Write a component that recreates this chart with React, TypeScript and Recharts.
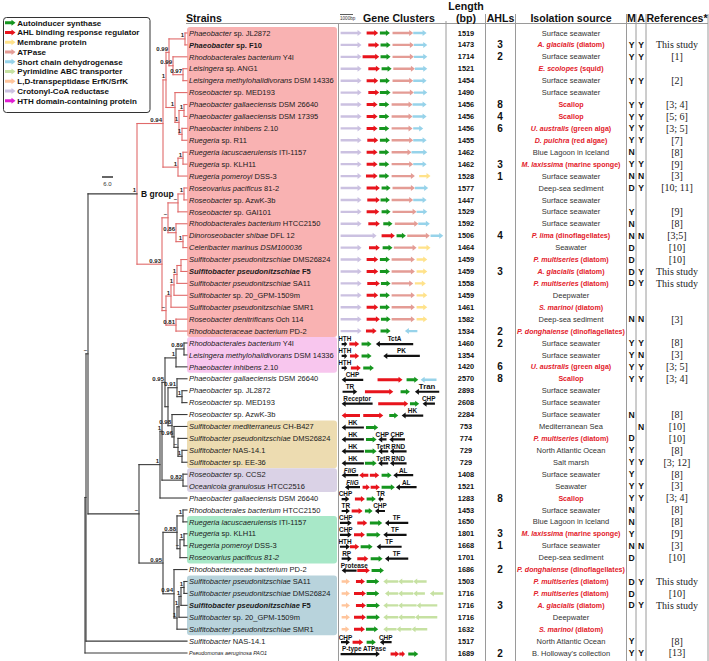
import React from 'react';
import { ComposedChart, XAxis, YAxis, Scatter, Bar, ReferenceLine, ReferenceArea } from 'recharts';

const W = 709;
const H = 661;
const SANS = '"Liberation Sans", Arial, Helvetica, sans-serif';
const SERIF = '"Liberation Serif", "Times New Roman", serif';
const ROW_DOMAIN = [0.5, 53.5];
const CHART_MARGIN = { top: 27, right: 0, bottom: 2, left: 0 };

// legend
const LEGEND_LABELS = [
  'Autoinducer synthase',
  'AHL binding response regulator',
  'Membrane protein',
  'ATPase',
  'Short chain dehydrogenase',
  'Pyrimidine ABC transporter',
  'L,D-transpeptidase ErfK/SrfK',
  'Crotonyl-CoA reductase',
  'HTH domain-containing protein',
];
const LEGEND_KEYS = ['grn', 'red', 'yel', 'sal', 'blu', 'lgr', 'pch', 'lav', 'hth'];

const GENE_COLOR: Record<string, string> = {
  grn: '#16961f',
  red: '#e8141c',
  yel: '#ffe28a',
  sal: '#e49c95',
  blu: '#97d3ea',
  lgr: '#c6e1a2',
  pch: '#ffc59c',
  lav: '#cbc1e1',
  hth: '#e01fd2',
  blk: '#111111',
};

// strains: italic part, roman part
const ROW_GENUS = [
  'Phaeobacter', 'Phaeobacter', 'Rhodobacterales bacterium', 'Leisingera', 'Leisingera methylohalidivorans',
  'Roseobacter', 'Phaeobacter gallaeciensis', 'Phaeobacter gallaeciensis', 'Phaeobacter inhibens', 'Ruegeria',
  'Ruegeria lacuscaerulensis', 'Ruegeria', 'Ruegeria pomeroyi', 'Roseovarius pacificus', 'Roseobacter',
  'Roseobacter', 'Rhodobacterales bacterium', 'Dinoroseobacter shibae', 'Celeribacter marinus DSM100036', 'Sulfitobacter pseudonitzschiae',
  'Sulfitobacter pseudonitzschiae', 'Sulfitobacter pseudonitzschiae', 'Sulfitobacter', 'Sulfitobacter pseudonitzschiae', 'Roseobacter denitrificans',
  'Rhodobacteraceae bacterium', 'Rhodobacterales bacterium', 'Leisingera methylohalidivorans', 'Phaeobacter inhibens', 'Phaeobacter gallaeciensis',
  'Phaeobacter', 'Roseobacter', 'Roseobacter', 'Sulfitobacter mediterraneus', 'Sulfitobacter pseudonitzschiae',
  'Sulfitobacter', 'Sulfitobacter', 'Roseobacter', 'Oceanicola granulosus', 'Phaeobacter gallaeciensis',
  'Rhodobacterales bacterium', 'Ruegeria lacuscaerulensis', 'Ruegeria', 'Ruegeria pomeroyi', 'Roseovarius pacificus 81-2',
  'Rhodobacteraceae bacterium', 'Sulfitobacter pseudonitzschiae', 'Sulfitobacter pseudonitzschiae', 'Sulfitobacter pseudonitzschiae', 'Sulfitobacter',
  'Sulfitobacter pseudonitzschiae', 'Sulfitobacter', 'Pseudomonas aeruginosa PAO1',
];
const ROW_TAG = [
  'sp. JL2872', 'sp. F10', 'Y4I', 'sp. ANG1', 'DSM 14336',
  'sp. MED193', 'DSM 26640', 'DSM 17395', '2.10', ' sp. R11',
  'ITI-1157', 'sp. KLH11', 'DSS-3', '81-2', 'sp. AzwK-3b',
  'sp. GAI101', 'HTCC2150', 'DFL 12', '', 'DMS26824',
  'F5', 'SA11', 'sp. 20_GPM-1509m', 'SMR1', 'Och 114',
  'PD-2', 'Y4I', 'DSM 14336', '2.10', 'DSM 26640',
  'sp. JL2872', 'sp. MED193', 'sp. AzwK-3b', 'CH-B427', 'DMS26824',
  'NAS-14.1', 'sp. EE-36', 'sp. CCS2', 'HTCC2516', 'DSM 26640',
  'HTCC2150', 'ITI-1157', 'sp. KLH11', 'DSS-3', '',
  'PD-2', 'SA11', 'DMS26824', 'F5', 'sp. 20_GPM-1509m',
  'SMR1', 'NAS-14.1', '',
];
const BOLD_ROWS = [2, 21, 49];

const LENGTHS = [
  1519, 1473, 1714, 1521, 1454, 1490, 1456, 1456, 1456, 1455,
  1462, 1462, 1528, 1577, 1447, 1529, 1592, 1506, 1464, 1459,
  1459, 1558, 1459, 1461, 1582, 1534, 1460, 1354, 1420, 2570,
  2893, 2608, 2284, 753, 774, 729, 729, 1408, 1521, 1283,
  1453, 1650, 1801, 1668, 1701, 1686, 1503, 1716, 1716, 1716,
  1632, 1517, 1689,
];
const AHLS = [
  '', '3', '2', '', '', '', '8', '4', '6', '',
  '', '3', '1', '', '', '', '', '4', '', '',
  '3', '', '', '', '', '2', '2', '', '6', '8',
  '', '', '', '', '', '', '', '', '', '8',
  '', '', '3', '1', '', '2', '', '', '3', '',
  '', '', '2',
];
const SOURCES = [
  'Surface seawater', 'A. glacialis (diatom)', 'Surface seawater', 'E. scolopes (squid)', 'Surface seawater',
  'Surface seawater', 'Scallop', 'Scallop', 'U. australis (green alga)', 'D. pulchra (red algae)',
  'Blue Lagoon in Iceland', 'M. laxissima (marine sponge)', 'Surface seawater', 'Deep-sea sediment', 'Surface seawater',
  'Surface seawater', 'Surface seawater', 'P. lima (dinoflagellates)', 'Seawater', 'P. multiseries (diatom)',
  'A. glacialis (diatom)', 'P. multiseries (diatom)', 'Deepwater', 'S. marinoi (diatom)', 'Deep-sea sediment',
  'P. donghaiense (dinoflagellates)', 'Surface seawater', 'Surface seawater', 'U. australis (green alga)', 'Scallop',
  'Surface seawater', 'Surface seawater', 'Surface seawater', 'Mediterranean Sea', 'P. multiseries (diatom)',
  'North Atlantic Ocean', 'Salt marsh', 'Surface seawater', 'Seawater', 'Scallop',
  'Surface seawater', 'Blue Lagoon in Iceland', 'M. laxissima (marine sponge)', 'Surface seawater', 'Deep-sea sediment',
  'P. donghaiense (dinoflagellates)', 'P. multiseries (diatom)', 'P. multiseries (diatom)', 'A. glacialis (diatom)', 'Deepwater',
  'S. marinoi (diatom)', 'North Atlantic Ocean', "B. Holloway's collection",
];
const HOST_ROWS = [2, 4, 7, 8, 9, 10, 12, 18, 20, 21, 22, 24, 26, 29, 30, 35, 40, 43, 46, 47, 48, 49, 51];
const M_FLAGS = [
  '', 'Y', 'Y', '', 'Y', '', 'Y', 'Y', 'Y', 'Y',
  'N', 'Y', 'N', 'D', '', 'Y', 'N', 'N', 'D', 'D',
  'D', 'D', '', '', 'N', '', 'Y', 'Y', 'Y', 'Y',
  '', '', 'N', '', 'D', 'Y', 'Y', 'Y', 'Y', 'Y',
  'N', 'N', 'Y', 'N', 'D', '', 'D', 'D', 'D', '',
  '', 'Y', 'Y',
];
const A_FLAGS = [
  '', 'Y', 'Y', '', 'Y', '', 'Y', 'Y', 'Y', 'Y',
  '', 'Y', 'N', 'Y', '', '', '', 'N', '', '',
  'Y', 'Y', '', '', 'N', '', 'Y', 'N', 'Y', 'Y',
  '', '', '', 'N', '', '', 'Y', '', 'Y', 'Y',
  '', '', '', 'N', '', '', 'Y', '', 'Y', '',
  '', '', 'Y',
];
const REFS = [
  '', 'This study', '[1]', '', '[2]', '', '[3; 4]', '[5; 6]', '[3; 5]', '[7]',
  '[8]', '[9]', '[3]', '[10; 11]', '', '[9]', '[8]', '[3;5]', '[10]', '[10]',
  'This study', 'This study', '', '', '[3]', '', '[8]', '[3]', '[3; 5]', '[3; 4]',
  '', '', '[8]', '[10]', '[10]', '[8]', '[3; 12]', '[8]', '[3]', '[3; 4]',
  '[8]', '[8]', '[9]', '[3]', '[10]', '', 'This study', '[10]', 'This study', '',
  '', '[8]', '[13]',
];

const GROUPS = [
  { from: 1, to: 26, color: '#f9b2b2' },
  { from: 27, to: 29, color: '#f8c6ee' },
  { from: 34, to: 37, color: '#eddcb1' },
  { from: 38, to: 39, color: '#dad2e6' },
  { from: 42, to: 45, color: '#a8e8c8' },
  { from: 47, to: 51, color: '#b8d3dc' },
];

// gene clusters per row: [type, start bp, end bp, direction, label]
type G = [string, number, number, number, string?];
const GENE_ROWS: G[][] = [
  [['lav', 50, 1660, 1], ['red', 2050, 2940, 1], ['grn', 3070, 3840, 1], ['sal', 4040, 5630, 1], ['blu', 5630, 6660, 1]],
  [['lav', 50, 1660, 1], ['red', 2180, 3020, 1], ['grn', 3120, 3890, 1], ['sal', 4040, 5680, 1], ['blu', 5680, 6710, 1]],
  [['lav', 50, 1660, 1], ['red', 1740, 3020, 1], ['grn', 3120, 3890, 1], ['sal', 4040, 5680, 1], ['blu', 5680, 6710, 1]],
  [['lav', 50, 1660, 1], ['red', 2180, 3070, 1], ['grn', 3200, 3970, 1], ['sal', 4100, 5760, 1], ['blu', 5760, 6710, 1]],
  [['lav', 50, 1660, 1], ['red', 2050, 2940, 1], ['grn', 3070, 3840, 1], ['sal', 4040, 5630, 1], ['blu', 5630, 6660, 1]],
  [['lav', 50, 1660, 1], ['red', 2180, 3020, 1], ['grn', 3070, 3890, 1], ['sal', 4040, 5680, 1], ['blu', 5680, 6710, 1]],
  [['lav', 50, 1660, 1], ['red', 2050, 2890, 1], ['grn', 3020, 3790, 1], ['sal', 3970, 5580, 1], ['blu', 5580, 6660, 1]],
  [['lav', 50, 1660, 1], ['red', 2050, 2890, 1], ['grn', 3020, 3790, 1], ['sal', 3970, 5580, 1], ['blu', 5580, 6660, 1]],
  [['lav', 50, 1660, 1], ['red', 2050, 2890, 1], ['grn', 3020, 3790, 1], ['sal', 3970, 5580, 1], ['blu', 5630, 6400, 1]],
  [['lav', 50, 1660, 1], ['red', 2100, 2940, 1], ['grn', 3070, 3840, 1], ['sal', 3970, 5630, 1], ['blu', 5630, 6660, 1]],
  [['lav', 50, 1660, 1], ['red', 2050, 2890, 1], ['grn', 3020, 3790, 1], ['sal', 3970, 5500, 1], ['blu', 5500, 6710, 1]],
  [['lav', 50, 1660, 1], ['red', 2050, 2890, 1], ['grn', 3020, 3790, 1], ['sal', 3970, 5630, 1], ['blu', 5630, 6660, 1]],
  [['lav', 50, 1660, 1], ['red', 2000, 2890, 1], ['grn', 3020, 3790, 1], ['sal', 3970, 5760, 1], ['yel', 6090, 6960, 1]],
  [['lav', 50, 1660, 1], ['red', 2050, 3070, 1], ['grn', 3200, 3890, 1], ['sal', 4040, 5760, 1], ['blu', 5760, 6780, 1]],
  [['lav', 50, 1660, 1], ['red', 2100, 3070, 1], ['grn', 3120, 3840, 1], ['sal', 3970, 5630, 1], ['blu', 5630, 6660, 1]],
  [['lav', 50, 1660, 1], ['red', 2050, 3020, 1], ['grn', 3200, 3890, 1], ['sal', 4040, 5890, 1], ['blu', 5890, 6710, 1]],
  [['lav', 50, 1660, 1], ['red', 2180, 3070, 1], ['grn', 3330, 4040, 1], ['sal', 4220, 6020, 1], ['blu', 6020, 6910, 1]],
  [['lav', 50, 2820, 1], ['red', 3200, 4220, 1], ['grn', 4350, 5070, 1], ['sal', 5170, 6910, 1], ['blu', 6960, 7940, 1]],
  [['lav', 50, 1660, 1], ['red', 2230, 3070, 1], ['grn', 3280, 4040, 1], ['sal', 4140, 5890, 1], ['yel', 6020, 6960, 1]],
  [['lav', 50, 1660, 1], ['red', 2050, 2940, 1], ['grn', 3070, 3840, 1], ['sal', 3970, 5760, 1], ['yel', 5890, 6710, 1]],
  [['lav', 50, 1660, 1], ['red', 2050, 2940, 1], ['grn', 3070, 3840, 1], ['sal', 3970, 5760, 1], ['yel', 5890, 6710, 1]],
  [['lav', 50, 1660, 1], ['red', 2100, 3070, 1], ['grn', 3150, 3890, 1], ['sal', 3970, 5630, 1], ['yel', 5760, 6600, 1]],
  [['lav', 50, 1660, 1], ['red', 2050, 2940, 1], ['grn', 3070, 3840, 1], ['sal', 3970, 5760, 1], ['yel', 5890, 6710, 1]],
  [['lav', 50, 1660, 1], ['red', 2050, 2940, 1], ['grn', 3070, 3840, 1], ['sal', 3970, 5760, 1], ['yel', 5890, 6710, 1]],
  [['lav', 50, 1660, 1], ['red', 2050, 3070, 1], ['grn', 3150, 3890, 1], ['sal', 3970, 5760, 1], ['yel', 5890, 6710, 1]],
  [['lav', 50, 1660, 1], ['red', 2000, 2820, 1], ['grn', 3120, 3890, 1], ['blu', 4990, 5950, -1]],
  [['blk', 130, 560, 1, 'HTH'], ['red', 720, 1480, 1], ['grn', 1660, 2430, 1], ['blk', 2760, 5630, -1, 'TctA']],
  [['blk', 130, 560, 1, 'HTH'], ['red', 770, 1480, 1], ['grn', 1660, 2430, 1], ['blk', 3330, 6140, -1, 'PK']],
  [['blk', 130, 560, 1, 'HTH'], ['red', 840, 1610, 1], ['grn', 1790, 2610, 1]],
  [['blk', 130, 1790, -1, 'CHP'], ['red', 2890, 4810, 1], ['grn', 5120, 6020, 1], ['blu', 6200, 7420, -1]],
  [['blk', 200, 1330, 1, 'TR'], ['red', 1920, 4100, 1], ['grn', 4660, 5380, 1], ['blk', 5760, 7630, -1, 'Tran']],
  [['blk', 130, 2510, -1, 'Receptor'], ['red', 2940, 5250, 1], ['grn', 5380, 6090, 1], ['blk', 6350, 7300, -1, 'CHP']],
  [['red', 130, 1540, -1], ['red', 1790, 3330, 1], ['grn', 3790, 4480, 1], ['blk', 4740, 6400, -1, 'HK']],
  [['blk', 130, 1840, -1, 'HK'], ['grn', 2000, 2940, 1]],
  [['blk', 130, 1840, -1, 'HK'], ['grn', 2000, 2820, 1], ['blk', 2940, 3580, -1, 'CHP'], ['blk', 3790, 5000, -1, 'CHP']],
  [['blk', 130, 1840, -1, 'HK'], ['grn', 1920, 2820, 1], ['blk', 2940, 3710, -1, 'TetR'], ['blk', 3840, 5120, -1, 'RND']],
  [['blk', 130, 1840, -1, 'HK'], ['grn', 1920, 2820, 1], ['blk', 2940, 3710, -1, 'TetR'], ['blk', 3840, 5120, -1, 'RND']],
  [['blk', 130, 1410, -1, 'FliG'], ['red', 1480, 2180, -1], ['red', 2300, 3020, 1], ['grn', 3200, 3970, 1], ['blk', 4100, 5630, -1, 'AL']],
  [['blk', 380, 1540, -1, 'FliG'], ['red', 1740, 2300, 1], ['red', 2360, 3070, 1], ['grn', 3200, 4220, 1], ['blk', 4300, 5890, -1, 'AL']],
  [['blk', 130, 720, 1, 'CHP'], ['red', 1150, 1920, 1], ['grn', 2050, 2760, 1], ['blk', 2940, 3330, -1, 'TR']],
  [['blk', 130, 770, 1, 'TR'], ['red', 900, 1740, 1], ['grn', 1920, 2510, 1], ['blk', 2690, 3460, -1, 'CHP']],
  [['blk', 0, 900, 1, 'CHP'], ['red', 1330, 2100, 1], ['grn', 2300, 3250, 1], ['blk', 3460, 5250, -1, 'TF']],
  [['blk', 0, 900, 1, 'CHP'], ['red', 1080, 1920, 1], ['grn', 2050, 3120, 1], ['blk', 3330, 5120, -1, 'TF']],
  [['blk', 0, 770, 1, 'HTH'], ['red', 770, 1480, 1], ['grn', 1590, 2510, 1], ['blk', 2820, 4740, -1, 'TF']],
  [['blk', 130, 900, 1, 'RP'], ['red', 1330, 2180, 1], ['grn', 2360, 3280, 1], ['blk', 3460, 5250, -1, 'TF']],
  [['blk', 130, 1280, -1, 'Protease'], ['red', 1330, 2300, 1], ['grn', 2430, 3380, 1]],
  [['pch', 130, 770, 1], ['red', 1230, 1920, 1], ['grn', 2050, 3020, 1], ['lgr', 3330, 4480, -1], ['lgr', 4480, 5630, -1], ['lgr', 5630, 6660, -1]],
  [['pch', 130, 770, 1], ['red', 1080, 2000, 1], ['grn', 2050, 3020, 1], ['lgr', 3460, 4480, -1], ['lgr', 4480, 5630, -1], ['lgr', 5630, 6530, -1], ['lgr', 6910, 7940, -1]],
  [['pch', 130, 770, 1], ['red', 1230, 2000, 1], ['grn', 2050, 3070, 1], ['lgr', 3330, 4480, -1], ['lgr', 4480, 5890, -1], ['lgr', 5890, 7480, -1]],
  [['pch', 130, 770, 1], ['red', 1080, 2000, 1], ['grn', 2050, 3070, 1], ['lgr', 3330, 4480, -1], ['lgr', 4480, 5760, -1], ['lgr', 5760, 7480, -1]],
  [['pch', 130, 720, 1], ['red', 1080, 1920, 1], ['grn', 2000, 2940, 1], ['lgr', 3330, 4350, -1], ['lgr', 4350, 5500, -1], ['lgr', 5500, 6710, -1]],
  [['blk', 80, 770, 1, 'CHP'], ['red', 970, 1790, 1], ['grn', 2050, 2760, 1], ['blk', 3070, 3970, -1, 'CHP']],
  [['blk', 50, 3070, 1, 'P-type ATPase'], ['red', 3890, 4560, 1], ['red', 4560, 5000, 1], ['grn', 5250, 6020, 1]],
];

// phylogeny: x = node depth, leaves are row numbers
type TNode = { x: number; s?: string; tag?: string; red?: boolean; c: (TNode | number)[] };
const B_GROUP: TNode = {
  x: 137, s: '1', tag: 'B group', red: true, c: [
    { x: 163, s: '0.94', c: [
      { x: 166, s: '1', c: [
        { x: 169, s: '0.99', c: [
          { x: 185, s: '1', c: [1, 2] },
          { x: 173, s: '0.99', c: [3, { x: 183, s: '0.97', c: [4, 5] }] },
        ] },
        { x: 175, s: '1', c: [6, { x: 179, s: '1', c: [{ x: 184, s: '1', c: [7, 8] }, { x: 182, s: '1', c: [9, 10] }] }] },
      ] },
      { x: 178, s: '1', c: [{ x: 183, s: '1', c: [11, 12] }, 13] },
    ] },
    { x: 162, s: '0.93', c: [
      { x: 168, s: '–', c: [
        { x: 178, s: '–', c: [{ x: 184, s: '1', c: [14, 15] }, 16] },
        { x: 176, s: '0.86', c: [17, { x: 183, s: '1', c: [18, 19] }] },
      ] },
      { x: 166, s: '–', c: [
        { x: 171, s: '1', c: [{ x: 174, s: '1', c: [{ x: 177, s: '1', c: [{ x: 181, c: [20, 21] }, 22] }, 23] }, 24] },
        { x: 176, s: '0.81', c: [25, 26] },
      ] },
    ] },
  ],
};
const OTHER_GROUPS: TNode = {
  x: 139, s: '–', c: [
    { x: 160, s: '1', c: [
      { x: 162, s: '1', c: [
        { x: 165, s: '0.95', c: [
          { x: 176, s: '1', c: [{ x: 184, s: '0.89', c: [27, 28] }, 29] },
          { x: 168, c: [
            { x: 177, s: '0.91', c: [30, { x: 182, s: '1', c: [31, 32] }] },
            { x: 172, s: '0.98', c: [33, { x: 174, s: '0.96', c: [34, { x: 178, s: '–', c: [35, { x: 182, s: '1', c: [36, 37] }] }] }] },
          ] },
        ] },
        { x: 183, s: '0.82', c: [38, 39] },
      ] },
      40,
    ] },
    { x: 163, s: '0.95', c: [
      { x: 177, s: '0.88', c: [
        { x: 183, s: '1', c: [41, 42] },
        { x: 180, s: '–', c: [{ x: 184, s: '1', c: [43, 44] }, 45] },
      ] },
      { x: 174, s: '0.94', c: [
        46,
        { x: 177, s: '1', c: [{ x: 179, s: '1', c: [{ x: 181, s: '1', c: [{ x: 184, s: '1', c: [47, 48] }, 49] }, 50] }, 51] },
      ] },
    ] },
  ],
};
const TREE: TNode = { x: 85, c: [{ x: 86, c: [{ x: 88, s: '–', c: [B_GROUP, OTHER_GROUPS] }, 52] }, 53] };

// layout constants
const LEAF_X = 187;
const STRAIN_X = 189;
const BOX_X = [187, 337];
const COL_X = { len: 466, ahl: 500, src: 571, m: 631.5, a: 641, ref: 677 };
const TABLE_LINES = [485.5, 515.5, 626.5, 636, 646, 708];

type Edge = { x1: number; x2: number; y1: number; y2: number; red: boolean };

function layoutTree(node: TNode, parentX: number | null, parentRed: boolean, edges: Edge[], labels: any[]): number {
  const red = parentRed || !!node.red;
  const ys = node.c.map((ch) => {
    if (typeof ch === 'number') {
      edges.push({ x1: node.x, x2: LEAF_X, y1: ch, y2: ch, red });
      return ch;
    }
    return layoutTree(ch, node.x, red, edges, labels);
  });
  const y = (ys[0] + ys[ys.length - 1]) / 2;
  edges.push({ x1: node.x, x2: node.x, y1: ys[0], y2: ys[ys.length - 1], red });
  if (parentX !== null) edges.push({ x1: parentX, x2: node.x, y1: y, y2: y, red: parentRed });
  if (node.s || node.tag) labels.push({ x: node.x, y, s: node.s || '', tag: node.tag || '' });
  return y;
}

const EDGES: Edge[] = [];
const NODE_LABELS: any[] = [];
layoutTree(TREE, null, false, EDGES, NODE_LABELS);

const GENES = GENE_ROWS.flatMap((genes, i) =>
  genes.map(([t, s, e, d, lab]) => ({ row: i + 1, t, range: [s, e], d, lab: lab || '' })),
);
const LABELED_ROWS = new Set(GENES.filter((g) => g.lab).map((g) => g.row));

function arrowPath(x0: number, x1: number, cy: number, th: number, hh: number, hl: number, dir: number) {
  const t = th / 2;
  const h = hh / 2;
  if (dir > 0) {
    const b = x1 - hl;
    return `M${x0},${cy - t}L${b},${cy - t}L${b},${cy - h}L${x1},${cy}L${b},${cy + h}L${b},${cy + t}L${x0},${cy + t}Z`;
  }
  const b = x0 + hl;
  return `M${x1},${cy - t}L${b},${cy - t}L${b},${cy - h}L${x0},${cy}L${b},${cy + h}L${b},${cy + t}L${x1},${cy + t}Z`;
}

const renderGene = (p: any) => {
  const { x, y, width, height, payload } = p;
  if (x == null || width == null || isNaN(x)) return <g />;
  const g = payload;
  const cy = y + height / 2 + (LABELED_ROWS.has(g.row) ? 1 : 0);
  const th = g.t === 'red' || g.t === 'grn' ? 3 : g.t === 'blk' ? 2.2 : 2.4;
  const hl = Math.min(4, width * 0.5);
  const fs = g.lab === 'Tran' ? 7.8 : 6.4;
  const half = (g.lab.length * fs * 0.3);
  const lx = Math.max(x + width / 2, half + 1);
  return (
    <g>
      <path d={arrowPath(x, x + width, cy, th, 6, hl, g.d)} fill={GENE_COLOR[g.t]} />
      {g.lab ? (
        <text x={lx} y={cy - 2.6} textAnchor="middle" fontSize={fs} fontWeight="bold"
          fontStyle={g.lab === 'FliG' ? 'italic' : 'normal'} fontFamily={SANS} fill="#111">{g.lab}</text>
      ) : null}
    </g>
  );
};

const renderNodeLabel = (p: any) => {
  const { cx, cy, payload } = p;
  return (
    <g>
      {payload.s ? (
        <text x={cx - 1} y={cy - 1.5} textAnchor="end" fontSize={6} fontWeight="bold" fontFamily={SANS} fill="#222">{payload.s}</text>
      ) : null}
      {payload.tag ? (
        <text x={cx + 4} y={cy + 3} fontSize={8.5} fontWeight="bold" fontFamily={SANS} fill="#111">{payload.tag}</text>
      ) : null}
    </g>
  );
};

const renderStrain = (p: any) => {
  const { cx, cy, payload: d } = p;
  const small = d.y === 53;
  return (
    <text x={cx} y={cy + (small ? 2 : 2.7)} fontSize={small ? 5.4 : 7.5} fontFamily={SANS} fill="#1a1a1a"
      fontWeight={d.bold ? 'bold' : 'normal'}>
      <tspan fontStyle="italic">{d.genus}</tspan>
      {d.tag ? <tspan>{' ' + d.tag}</tspan> : null}
    </text>
  );
};

const renderCell = (style: any) => (p: any) => {
  const { cx, cy, payload: d } = p;
  return (
    <text x={cx} y={cy + style.dy} textAnchor="middle" fontSize={style.size} fontFamily={style.family || SANS}
      fontWeight={style.weight || 'normal'} fill={style.fill || '#222'}>{d.v}</text>
  );
};

const renderSource = (p: any) => {
  const { cx, cy, payload: d } = p;
  if (!d.host) {
    return <text x={cx} y={cy + 2.6} textAnchor="middle" fontSize={7.5} fontFamily={SANS} fill="#333">{d.v}</text>;
  }
  const k = d.v.indexOf(' (');
  const it = k >= 0 ? d.v.slice(0, k) : '';
  const rest = k >= 0 ? d.v.slice(k) : d.v;
  return (
    <text x={cx} y={cy + 2.5} textAnchor="middle" fontSize={7.1} fontFamily={SANS} fontWeight="bold" fill="#e3202a">
      {it ? <tspan fontStyle="italic">{it}</tspan> : null}
      <tspan>{rest}</tspan>
    </text>
  );
};

const cellsOf = (values: (string | number)[], x: number) =>
  values.map((v, i) => ({ x, y: i + 1, v: String(v) })).filter((c) => c.v !== '');

const STRAIN_CELLS = ROW_GENUS.map((g, i) => ({ x: STRAIN_X, y: i + 1, genus: g, tag: ROW_TAG[i], bold: BOLD_ROWS.includes(i + 1) }));
const LEN_CELLS = cellsOf(LENGTHS, COL_X.len);
const AHL_CELLS = cellsOf(AHLS, COL_X.ahl);
const SRC_CELLS = cellsOf(SOURCES, COL_X.src).map((c) => ({ ...c, host: HOST_ROWS.includes(c.y) }));
const M_CELLS = cellsOf(M_FLAGS, COL_X.m);
const A_CELLS = cellsOf(A_FLAGS, COL_X.a);
const REF_CELLS = cellsOf(REFS, COL_X.ref);

const TREE_RED = '#e06a6a';
const TREE_BLACK = '#3a3a3a';

export default function App() {
  return (
    <div style={{ position: 'absolute', left: 0, top: 0, width: W, height: H, background: '#fff', overflow: 'hidden', fontFamily: SANS }}>
      <div style={{ position: 'absolute', left: 0, top: 0 }}>
        <ComposedChart width={W} height={H} margin={CHART_MARGIN}>
          <XAxis type="number" dataKey="x" domain={[0, W]} hide />
          <YAxis type="number" dataKey="y" domain={ROW_DOMAIN} reversed hide />
          {GROUPS.map((g) => (
            <ReferenceArea key={g.from} x1={BOX_X[0]} x2={BOX_X[1]} y1={g.from - 0.5} y2={g.to + 0.5}
              fill={g.color} fillOpacity={1} stroke="none" ifOverflow="visible" radius={3} />
          ))}
          {EDGES.map((e, i) => (
            <ReferenceLine key={i} segment={[{ x: e.x1, y: e.y1 }, { x: e.x2, y: e.y2 }]}
              stroke={e.red ? TREE_RED : TREE_BLACK} strokeWidth={1.1} strokeLinecap="square" ifOverflow="visible" />
          ))}
          <Scatter data={NODE_LABELS} shape={renderNodeLabel} isAnimationActive={false} />
          <Scatter data={STRAIN_CELLS} shape={renderStrain} isAnimationActive={false} />
          <Scatter data={LEN_CELLS} shape={renderCell({ size: 7.4, weight: 'bold', dy: 2.6, fill: '#111' })} isAnimationActive={false} />
          <Scatter data={AHL_CELLS} shape={renderCell({ size: 10, weight: 'bold', dy: 3.6, fill: '#111' })} isAnimationActive={false} />
          <Scatter data={SRC_CELLS} shape={renderSource} isAnimationActive={false} />
          <Scatter data={M_CELLS} shape={renderCell({ size: 8.6, weight: 'bold', dy: 3.1, fill: '#111' })} isAnimationActive={false} />
          <Scatter data={A_CELLS} shape={renderCell({ size: 8.6, weight: 'bold', dy: 3.1, fill: '#111' })} isAnimationActive={false} />
          <Scatter data={REF_CELLS} shape={renderCell({ size: 10, dy: 3.4, family: SERIF, fill: '#222' })} isAnimationActive={false} />
        </ComposedChart>
      </div>

      <div style={{ position: 'absolute', left: 338, top: 0 }}>
        <ComposedChart layout="vertical" width={108} height={H} data={GENES} margin={CHART_MARGIN}>
          <XAxis type="number" domain={[-150, 8150]} hide />
          <YAxis type="number" dataKey="row" domain={ROW_DOMAIN} hide />
          <Bar dataKey="range" barSize={6} shape={renderGene} isAnimationActive={false} />
        </ComposedChart>
      </div>

      <svg width={W} height={H} style={{ position: 'absolute', left: 0, top: 0, pointerEvents: 'none' }}>
        {/* legend */}
        <rect x={3.5} y={17.5} width={146.5} height={95} rx={3} fill="#fff" stroke="#333" strokeWidth={1} />
        {LEGEND_LABELS.map((l, i) => {
          const cy = 22.7 + i * 9.75;
          return (
            <g key={l}>
              <path d={arrowPath(5, 15.5, cy, 3, 6, 4, 1)} fill={GENE_COLOR[LEGEND_KEYS[i]]} />
              <text x={17.3} y={cy + 2.8} fontSize={8} fontWeight="bold" fontFamily={SANS} fill="#111">{l}</text>
            </g>
          );
        })}

        {/* tree scale */}
        <line x1={102} x2={113} y1={177} y2={177} stroke="#333" strokeWidth={1.5} />
        <text x={107.5} y={185.5} fontSize={6} textAnchor="middle" fontFamily={SANS} fill="#333">6.0</text>

        {/* table rules */}
        <line x1={186} x2={708} y1={23.5} y2={23.5} stroke="#9a9a9a" strokeWidth={1} />
        <line x1={338.5} x2={338.5} y1={23.5} y2={H} stroke="#9a9a9a" strokeWidth={1} />
        <line x1={446} x2={446} y1={21} y2={H} stroke="#9a9a9a" strokeWidth={1} />
        {TABLE_LINES.map((x) => (
          <line key={x} x1={x} x2={x} y1={14} y2={H} stroke="#9a9a9a" strokeWidth={1} />
        ))}

        {/* headers */}
        <text x={186} y={21.8} fontSize={10.6} fontWeight="bold" fontFamily={SANS} fill="#111">Strains</text>
        <line x1={340} x2={353} y1={14.5} y2={14.5} stroke="#333" strokeWidth={0.8} />
        <text x={340} y={20} fontSize={4.6} fontFamily={SANS} fill="#333">1000bp</text>
        <text x={363} y={21.8} fontSize={10.6} fontWeight="bold" fontFamily={SANS} fill="#111">Gene Clusters</text>
        <text x={466} y={9.5} fontSize={10.6} fontWeight="bold" fontFamily={SANS} fill="#111" textAnchor="middle">Length</text>
        <text x={466} y={21.8} fontSize={10.6} fontWeight="bold" fontFamily={SANS} fill="#111" textAnchor="middle">(bp)</text>
        <text x={500.5} y={21.8} fontSize={10.6} fontWeight="bold" fontFamily={SANS} fill="#111" textAnchor="middle">AHLs</text>
        <text x={571} y={21.8} fontSize={10.6} fontWeight="bold" fontFamily={SANS} fill="#111" textAnchor="middle">Isolation source</text>
        <text x={631.3} y={21.8} fontSize={10.6} fontWeight="bold" fontFamily={SANS} fill="#111" textAnchor="middle">M</text>
        <text x={641} y={21.8} fontSize={10.6} fontWeight="bold" fontFamily={SANS} fill="#111" textAnchor="middle">A</text>
        <text x={677} y={21.8} fontSize={10.6} fontWeight="bold" fontFamily={SANS} fill="#111" textAnchor="middle">References*</text>
      </svg>
    </div>
  );
}
